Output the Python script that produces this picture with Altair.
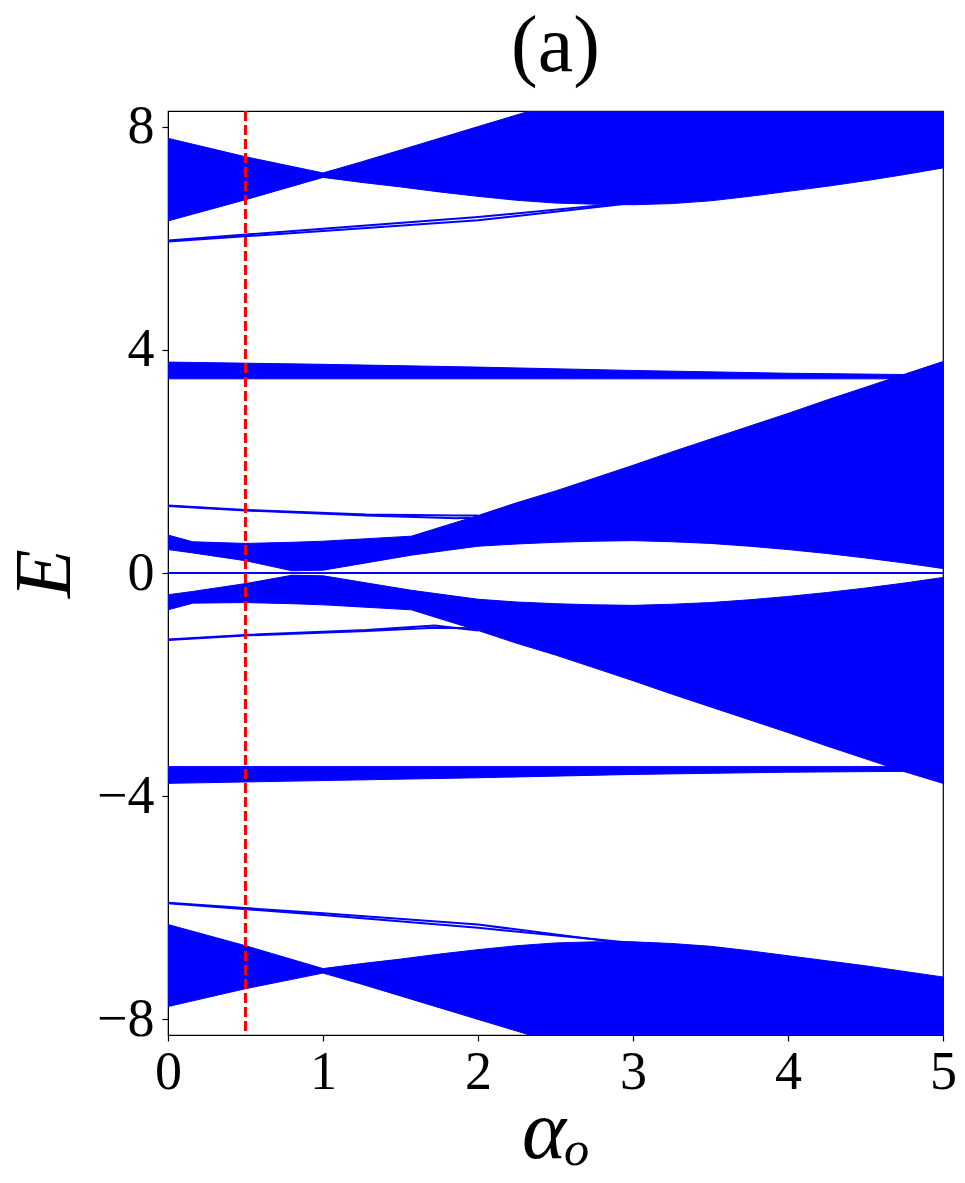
import altair as alt
import pandas as pd

# ---- band boundaries (alpha_o, E) ----
a_A = [0, 0.5, 1.0, 1.25, 1.5, 1.75, 2.0, 2.25, 2.5, 2.75, 3.0, 3.25, 3.5, 3.75, 4.0, 4.25, 4.5, 4.75, 5.0]
A_hi = [7.79, 7.46, 7.17, 7.37, 7.58, 7.79, 8.00, 8.21, 8.42, 8.63, 8.84, 9.05, 9.26, 9.47, 9.68, 9.89, 10.10, 10.31, 10.52]
A_lo = [6.31, 6.69, 7.09, 7.00, 6.92, 6.83, 6.75, 6.68, 6.63, 6.61, 6.60, 6.62, 6.67, 6.75, 6.84, 6.93, 7.03, 7.14, 7.26]
H_hi = [-6.30, -6.68, -7.09, -7.00, -6.92, -6.83, -6.75, -6.68, -6.63, -6.61, -6.61, -6.64, -6.69, -6.77, -6.86, -6.95, -7.04, -7.14, -7.24]
H_lo = [-7.77, -7.45, -7.17, -7.37, -7.58, -7.79, -8.00, -8.21, -8.42, -8.63, -8.84, -9.05, -9.26, -9.47, -9.68, -9.89, -10.10, -10.31, -10.52]

a_B = [0, 1, 2, 3, 4, 5]
B_hi = [3.78, 3.74, 3.69, 3.63, 3.58, 3.55]
B_lo = [3.48, 3.48, 3.48, 3.48, 3.48, 3.48]
G_hi = [-3.47, -3.47, -3.47, -3.47, -3.47, -3.47]
G_lo = [-3.77, -3.72, -3.67, -3.61, -3.57, -3.55]

a_C = [0, 0.16, 0.5, 0.8, 1.0, 1.57, 2.0, 2.25, 2.5, 2.75, 3.0, 3.25, 3.5, 3.75, 4.0, 4.25, 4.5, 4.75, 5.0]
C_hi = [0.68, 0.56, 0.53, 0.55, 0.57, 0.66, 1.03, 1.26, 1.47, 1.70, 1.93, 2.17, 2.40, 2.63, 2.86, 3.10, 3.33, 3.56, 3.79]
C_lo = [0.42, 0.36, 0.22, 0.04, 0.05, 0.32, 0.48, 0.52, 0.55, 0.57, 0.58, 0.56, 0.53, 0.48, 0.42, 0.35, 0.27, 0.18, 0.08]
D_hi = [-0.39, -0.33, -0.19, -0.04, -0.05, -0.31, -0.47, -0.52, -0.55, -0.57, -0.58, -0.56, -0.53, -0.48, -0.42, -0.35, -0.27, -0.18, -0.08]
D_lo = [-0.66, -0.54, -0.53, -0.55, -0.57, -0.66, -1.03, -1.26, -1.47, -1.70, -1.93, -2.17, -2.40, -2.63, -2.86, -3.10, -3.33, -3.56, -3.77]

# ---- isolated (edge-state) lines ----
lines = {
    "t1": ([0, 1, 2, 2.9], [5.96, 6.17, 6.38, 6.62]),
    "t2": ([0, 1, 2, 3.0], [5.94, 6.13, 6.32, 6.63]),
    "m1": ([0, 0.5, 1.28, 1.86, 2.0], [1.21, 1.13, 1.05, 1.03, 1.03]),
    "m2": ([0, 0.5, 1.28, 1.86, 1.95], [1.20, 1.12, 1.03, 0.98, 0.99]),
    "n1": ([0, 0.5, 1.28, 1.72, 2.0], [-1.19, -1.11, -1.02, -0.94, -1.03]),
    "n2": ([0, 0.5, 1.28, 1.72, 1.95], [-1.20, -1.12, -1.04, -0.98, -0.99]),
    "b1": ([0, 1, 2, 2.9], [-5.91, -6.10, -6.30, -6.62]),
    "b2": ([0, 1, 2, 3.0], [-5.92, -6.13, -6.36, -6.63]),
    "z": ([0, 5], [0.0, 0.0]),
}
vline = [0.5]

bands = [("A", a_A, A_hi, A_lo), ("H", a_A, H_hi, H_lo),
         ("B", a_B, B_hi, B_lo), ("G", a_B, G_hi, G_lo),
         ("C", a_C, C_hi, C_lo), ("D", a_C, D_hi, D_lo)]
rows = []
for name, xs, hi, lo in bands:
    for x, h, l in zip(xs, hi, lo):
        rows.append({"band": name, "a": x, "hi": h, "lo": l})
band_df = pd.DataFrame(rows)

lrows = []
for name, (xs, ys) in lines.items():
    for i, (x, y) in enumerate(zip(xs, ys)):
        lrows.append({"line": name, "a": x, "E": y, "o": i})
line_df = pd.DataFrame(lrows)
vdf = pd.DataFrame({"a": vline})

FONT = "Liberation Serif"
BLUE = "#0000ff"

xscale = alt.Scale(domain=[0, 5], nice=False, zero=False)
yscale = alt.Scale(domain=[-8.28, 8.28], nice=False, zero=False)

xaxis = alt.Axis(values=[0, 1, 2, 3, 4, 5], format="d", grid=False,
                 labelFlush=False, labelOverlap=False,
                 labelFont=FONT, labelFontSize=54, labelColor="black",
                 tickColor="black", domainColor="black", tickSize=6, tickWidth=1.2,
                 labelPadding=4, title="αₒ", titleFont=FONT, titleFontSize=84,
                 titleFontStyle="italic", titleFontWeight="normal", titleColor="black",
                 titleBaseline="alphabetic", titleY=122)
yaxis = alt.Axis(values=[-8, -4, 0, 4, 8], format="d", grid=False,
                 labelFlush=False, labelOverlap=False,
                 labelFont=FONT, labelFontSize=54, labelColor="black",
                 tickColor="black", domainColor="black", tickSize=6, tickWidth=1.2,
                 labelPadding=8, title="E", titleFont=FONT, titleFontSize=80,
                 titleFontStyle="italic", titleFontWeight="normal", titleColor="black",
                 titlePadding=10)

areas = alt.Chart(band_df).mark_area(color=BLUE, clip=True, opacity=1,
                                     stroke=BLUE, strokeWidth=1).encode(
    x=alt.X("a:Q", scale=xscale, axis=xaxis),
    y=alt.Y("hi:Q", scale=yscale, axis=yaxis),
    y2="lo:Q",
    detail="band:N",
)

edge = alt.Chart(line_df).mark_line(color=BLUE, strokeWidth=2, clip=True).encode(
    x=alt.X("a:Q", scale=xscale),
    y=alt.Y("E:Q", scale=yscale),
    detail="line:N",
    order="o:Q",
)

rule = alt.Chart(vdf).mark_rule(color="#ff0000", strokeWidth=3,
                                strokeDash=[10, 4]).encode(
    x=alt.X("a:Q", scale=xscale),
)

chart = alt.layer(areas, edge, rule).properties(
    width=775, height=924,
    title=alt.TitleParams("(a)", font=FONT, fontSize=80, fontWeight="normal",
                          color="black", anchor="middle", offset=12),
    autosize=alt.AutoSizeParams(type="none"),
    padding={"left": 160, "top": 103, "right": 14, "bottom": 140},
).configure_view(stroke="black", strokeWidth=1.2)

chart.save("out.html", embed_options={"renderer": "svg", "actions": False})
